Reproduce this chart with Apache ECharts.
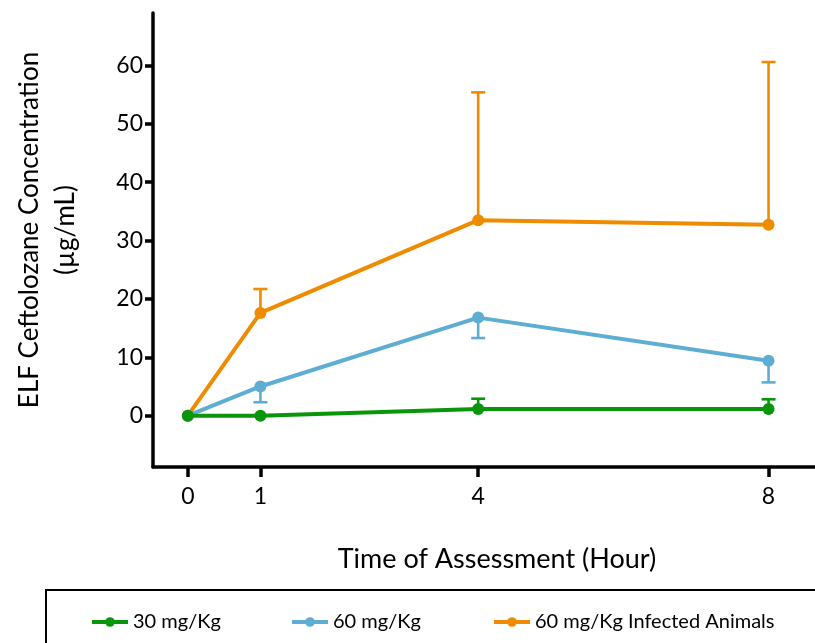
<!DOCTYPE html>
<html><head><meta charset="utf-8">
<script src="https://cdn.jsdelivr.net/npm/echarts@6/dist/echarts.min.js"></script>
<style>html,body{margin:0;padding:0;background:#fff}#c{width:815px;height:643px}</style>
</head><body><div id="c"></div>
<script>
const hours = [0, 1, 4, 8];
const xTicks = [0, 1, 4, 8];
const yTicks = [0, 10, 20, 30, 40, 50, 60];
const seriesNames = ['30 mg/Kg', '60 mg/Kg', '60 mg/Kg Infected Animals'];
const dose30 = [0, 0, 1.15, 1.15];
const dose60 = [0, 5.0, 16.8, 9.4];
const dose60Inf = [0, 17.6, 33.5, 32.7];
// error bar far ends (null = no bar)
const dose30Err = [null, null, 2.9, 2.8];
const dose60Err = [null, 2.3, 13.3, 5.7];
const dose60InfErr = [null, 21.7, 55.4, 60.6];
const colors = ['#0A960A', '#5DAED2', '#EE8B00'];

const FONT = 'Lato';
function pairs(vals){ return hours.map((h,i)=>[h, vals[i]]); }
function errData(vals, ends){ const out=[]; hours.forEach((h,i)=>{ if(ends[i]!==null) out.push([h, vals[i], ends[i]]); }); return out; }
function errSeries(name, vals, ends, color){
  return {
    type:'custom', name:name + ' (error)', data: errData(vals, ends), z:2, silent:true,
    itemStyle:{color:color},
    renderItem:(params, api)=>{
      const p0 = api.coord([api.value(0), api.value(1)]);
      const p1 = api.coord([api.value(0), api.value(2)]);
      const hw = 7;
      return {type:'group', children:[
        {type:'line', shape:{x1:p0[0],y1:p0[1],x2:p1[0],y2:p1[1]}, style:{stroke:color,lineWidth:2.6}},
        {type:'line', shape:{x1:p1[0]-hw,y1:p1[1],x2:p1[0]+hw,y2:p1[1]}, style:{stroke:color,lineWidth:2.6}}
      ]};
    }
  };
}
function lineSeries(name, vals, color, z){
  return {type:'line', name:name, data:pairs(vals), z:z, symbol:'circle', symbolSize:12,
    lineStyle:{color:color,width:4}, itemStyle:{color:color}, animation:false};
}
const legendPos = [85, 285, 487];
const chart = echarts.init(document.getElementById('c'));
chart.setOption({
  animation:false,
  grid:{left:153, right:0, top:13, bottom:176},
  xAxis:{type:'value', min:-0.48, max:8.64,
    name:'Time of Assessment (Hour)', nameLocation:'middle', nameGap:79,
    nameTextStyle:{fontFamily:FONT, fontSize:27, color:'#000', padding:[0,0,0,26]},
    axisLine:{onZero:false, lineStyle:{color:'#000', width:3.5}},
    axisTick:{show:true, length:10, lineStyle:{color:'#000', width:3.5}, customValues:xTicks},
    axisLabel:{fontFamily:FONT, fontSize:23, color:'#000', margin:18, customValues:xTicks},
    splitLine:{show:false}},
  yAxis:{type:'value', min:-8.8, max:69,
    name:'ELF Ceftolozane Concentration\n(µg/mL)', nameLocation:'middle', nameGap:69, nameRotate:90,
    nameTextStyle:{fontFamily:FONT, fontSize:26, color:'#000', lineHeight:36, padding:[0,0,0,20]},
    axisLine:{show:true, onZero:false, lineStyle:{color:'#000', width:3.5}},
    axisTick:{show:true, length:8, lineStyle:{color:'#000', width:3.5}, customValues:yTicks},
    axisLabel:{fontFamily:FONT, fontSize:23, color:'#000', margin:10, customValues:yTicks},
    splitLine:{show:false}},
  legend: seriesNames.map((n,i)=>({data:[n], left:legendPos[i], top:607, itemWidth:36, itemHeight:12,
    itemGap:10, lineStyle:{width:4}, textStyle:{fontFamily:FONT, fontSize:20, color:'#000'}, selectedMode:false})),
  graphic:[{type:'rect', shape:{x:46, y:590, width:800, height:100}, style:{fill:'none', stroke:'#000', lineWidth:2}}],
  series:[
    errSeries(seriesNames[2], dose60Inf, dose60InfErr, colors[2]),
    lineSeries(seriesNames[2], dose60Inf, colors[2], 3),
    errSeries(seriesNames[1], dose60, dose60Err, colors[1]),
    lineSeries(seriesNames[1], dose60, colors[1], 4),
    errSeries(seriesNames[0], dose30, dose30Err, colors[0]),
    lineSeries(seriesNames[0], dose30, colors[0], 5)
  ]
});
</script></body></html>
